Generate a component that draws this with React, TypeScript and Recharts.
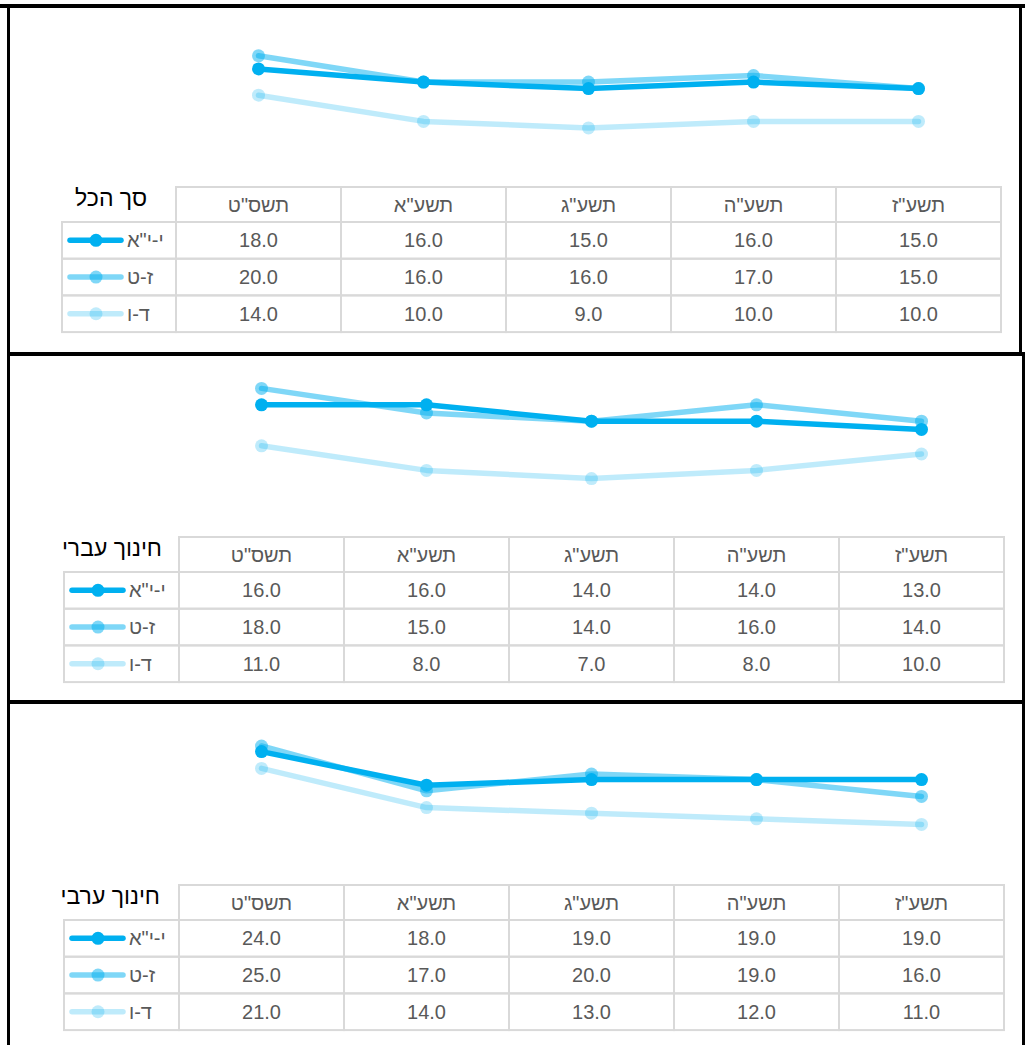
import { LineChart, Line, XAxis, YAxis } from 'recharts';

// school years (columns of the data table)
const years = ['תשס"ט', 'תשע"א', 'תשע"ג', 'תשע"ה', 'תשע"ז'];
// grade groups (rows of the data table)
const groups = ['י-י"א', 'ז-ט', 'ד-ו'];

// סך הכל
const totalHigh = [18, 16, 15, 16, 15];
const totalMid = [20, 16, 16, 17, 15];
const totalLow = [14, 10, 9, 10, 10];

// חינוך עברי
const hebrewHigh = [16, 16, 14, 14, 13];
const hebrewMid = [18, 15, 14, 16, 14];
const hebrewLow = [11, 8, 7, 8, 10];

// חינוך ערבי
const arabHigh = [24, 18, 19, 19, 19];
const arabMid = [25, 17, 20, 19, 16];
const arabLow = [21, 14, 13, 12, 11];

const FONT = "'Liberation Sans', 'DejaVu Sans', Arial, sans-serif";
const BLUE = '#00B0F0';
const GRID = '#D9D9D9';
const TEXT = '#595959';
const OPACITY = [1, 0.5, 0.25];
const COL_W = 165;
const HEAD_H = 35;
const ROW_H = 36.7;

const panels = [
  { title: 'סך הכל', series: [totalHigh, totalMid, totalLow], yMax: 25,
    top: 9, bottom: 352, plotTop: 23, zeroY: 187, tableTop: 187, tableLeft: 176, tableRight: 1001, legendLeft: 62, titleRight: 147 },
  { title: 'חינוך עברי', series: [hebrewHigh, hebrewMid, hebrewLow], yMax: 20,
    top: 355, bottom: 700, plotTop: 372, zeroY: 536, tableTop: 537, tableLeft: 179, tableRight: 1004, legendLeft: 64, titleRight: 162 },
  { title: 'חינוך ערבי', series: [arabHigh, arabMid, arabLow], yMax: 30,
    top: 704, bottom: 1045, plotTop: 718, zeroY: 886, tableTop: 885, tableLeft: 179, tableRight: 1004, legendLeft: 64, titleRight: 160 },
];

function makeTick(p: any) {
  return (props: any) => {
    const { x, index } = props;
    const left = x - COL_W / 2;
    const top = p.tableTop - p.top;
    return (
      <g>
        <rect x={left} y={top} width={COL_W} height={HEAD_H} fill="none" stroke={GRID} strokeWidth={2} />
        <text x={x} y={top + HEAD_H / 2 + 7} textAnchor="middle" fontSize={20} fontFamily={FONT} fill={TEXT}>
          {years[index]}
        </text>
        {p.series.map((s: number[], r: number) => {
          const ry = top + HEAD_H + r * ROW_H;
          return (
            <g key={r}>
              <rect x={left} y={ry} width={COL_W} height={ROW_H} fill="none" stroke={GRID} strokeWidth={2} />
              <text x={x} y={ry + ROW_H / 2 + 7} textAnchor="middle" fontSize={20} fontFamily={FONT} fill={TEXT}>
                {s[index].toFixed(1)}
              </text>
            </g>
          );
        })}
        {index === 0 && (
          <g>
            <text x={p.titleRight} y={top + 19} textAnchor="end" fontSize={23} fontFamily={FONT} fill="#000">
              {p.title}
            </text>
            {groups.map((g, r) => {
              const ry = top + HEAD_H + r * ROW_H;
              const cy = ry + ROW_H / 2;
              const lx = p.legendLeft;
              return (
                <g key={g}>
                  <rect x={lx} y={ry} width={p.tableLeft - lx} height={ROW_H} fill="none" stroke={GRID} strokeWidth={2} />
                  <line x1={lx + 8} x2={lx + 59} y1={cy} y2={cy} stroke={BLUE} strokeOpacity={OPACITY[r]} strokeWidth={5.5} strokeLinecap="round" />
                  <circle cx={lx + 34} cy={cy} r={6.5} fill={BLUE} fillOpacity={OPACITY[r]} />
                  <text x={lx + 65} y={cy + 7} fontSize={20} fontFamily={FONT} fill={TEXT}>
                    {g}
                  </text>
                </g>
              );
            })}
          </g>
        )}
      </g>
    );
  };
}

function Panel({ p }: { p: any }) {
  const data = years.map((y, i) => ({
    year: y,
    high: p.series[0][i],
    mid: p.series[1][i],
    low: p.series[2][i],
  }));
  const height = p.bottom - p.top;
  return (
    <div style={{ position: 'absolute', left: 0, top: p.top }}>
      <LineChart
        width={1026}
        height={height}
        data={data}
        margin={{ top: p.plotTop - p.top, right: 1026 - p.tableRight, bottom: 0, left: p.tableLeft }}
      >
        <XAxis
          dataKey="year"
          height={p.bottom - p.zeroY}
          axisLine={false}
          tickLine={false}
          tickSize={0}
          tickMargin={0}
          interval={0}
          padding={{ left: COL_W / 2, right: COL_W / 2 }}
          tick={makeTick(p)}
        />
        <YAxis hide type="number" domain={[0, p.yMax]} />
        {['low', 'mid', 'high'].map((k) => {
          const op = OPACITY[['high', 'mid', 'low'].indexOf(k)];
          return (
            <Line
              key={k}
              dataKey={k}
              type="linear"
              stroke={BLUE}
              strokeOpacity={op}
              strokeWidth={5.5}
              strokeLinejoin="round"
              strokeLinecap="round"
              dot={{ r: 6.5, fill: BLUE, fillOpacity: op, stroke: 'none' }}
              activeDot={false}
              isAnimationActive={false}
            />
          );
        })}
      </LineChart>
    </div>
  );
}

export default function App() {
  const bar = (style: any) => <div style={{ position: 'absolute', background: '#000', ...style }} />;
  return (
    <div style={{ position: 'absolute', left: 0, top: 0, width: 1026, height: 1045, background: '#fff', overflow: 'hidden' }}>
      {panels.map((p, i) => (
        <Panel key={i} p={p} />
      ))}
      {bar({ left: 0, top: 4, width: 1025, height: 4 })}
      {bar({ left: 7, top: 4, width: 3, height: 1041 })}
      {bar({ left: 1019, top: 4, width: 3, height: 351 })}
      {bar({ left: 1022, top: 352, width: 3, height: 693 })}
      {bar({ left: 7, top: 352, width: 1018, height: 3.5 })}
      {bar({ left: 7, top: 700, width: 1018, height: 4 })}
    </div>
  );
}
